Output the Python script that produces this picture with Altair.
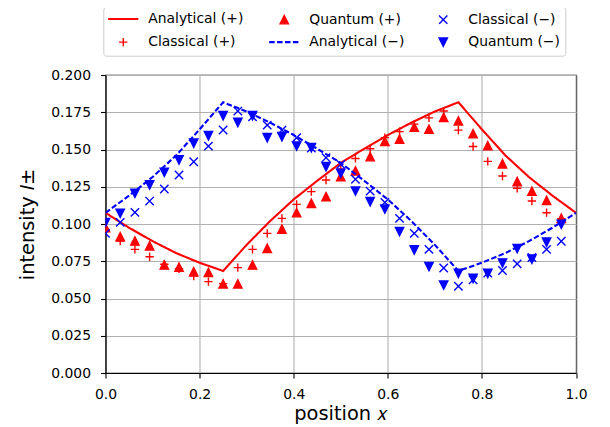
import altair as alt
import pandas as pd

# ---- series (legend is filled column by column, like the original) ----
SERIES = ["Analytical (+)", "Classical (+)", "Quantum (+)",
          "Analytical (−)", "Classical (−)", "Quantum (−)"]
COLORS = ["#ff0000", "#ff0000", "#ff0000", "#0000ff", "#0000ff", "#0000ff"]
FILLS = ["transparent", "transparent", "#ff0000", "transparent", "transparent", "#0000ff"]
_PAD = "M-3.6,-1M3.6,1"  # invisible moves: give every legend symbol the same extent
SHAPES = ["M-3.6,0H3.6" + _PAD,
          "M-1,0H1M0,-1V1" + _PAD,
          "M0,-1L-1,1L1,1Z" + _PAD,
          "M-3.6,0H3.6" + _PAD,
          "M-1,-1L1,1M-1,1L1,-1" + _PAD,
          "M0,1L-1,-1L1,-1Z" + _PAD]
DASHES = [[1, 0], [1, 0], [1, 0], [5.5, 2.4], [1, 0], [1, 0]]
WIDTHS = [2.1, 1.4, 1.4, 2.1, 1.4, 1.4]

# ---- analytical curves ----
ana_x = [0.0, 0.05, 0.10, 0.15, 0.20, 0.25, 0.30, 0.35, 0.40, 0.45, 0.50,
         0.55, 0.60, 0.65, 0.70, 0.75, 0.80, 0.85, 0.90, 0.95, 1.0]
ana_plus = [0.1075, 0.0975, 0.0885, 0.0805, 0.0740, 0.0685, 0.0860, 0.1020,
            0.1165, 0.1290, 0.1410, 0.1505, 0.1597, 0.1680, 0.1755, 0.1817,
            0.1635, 0.1460, 0.1315, 0.1190, 0.1075]
ana_minus = [0.1075, 0.1190, 0.1315, 0.1460, 0.1635, 0.1817, 0.1755, 0.1680,
             0.1597, 0.1505, 0.1410, 0.1290, 0.1165, 0.1020, 0.0860, 0.0685,
             0.0740, 0.0805, 0.0885, 0.0975, 0.1075]

# ---- sampled positions ----
pos_x = [0.0, 0.03125, 0.0625, 0.09375, 0.125, 0.15625, 0.1875, 0.21875,
         0.25, 0.28125, 0.3125, 0.34375, 0.375, 0.40625, 0.4375, 0.46875,
         0.5, 0.53125, 0.5625, 0.59375, 0.625, 0.65625, 0.6875, 0.71875,
         0.75, 0.78125, 0.8125, 0.84375, 0.875, 0.90625, 0.9375, 0.96875]
classical_plus = [0.0960, 0.0886, 0.0830, 0.0780, 0.0730, 0.0700, 0.0650, 0.0613,
                  0.0600, 0.0707, 0.0830, 0.0937, 0.1038, 0.1132, 0.1217, 0.1295,
                  0.1369, 0.1440, 0.1505, 0.1580, 0.1620, 0.1670, 0.1712, 0.1758,
                  0.1630, 0.1520, 0.1420, 0.1322, 0.1240, 0.1154, 0.1076, 0.1035]
quantum_plus = [0.0975, 0.0915, 0.0886, 0.0854, 0.0725, 0.0710, 0.0680, 0.0675,
                0.0598, 0.0598, 0.0725, 0.0837, 0.0966, 0.1076, 0.1139, 0.1183,
                0.1318, 0.1356, 0.1452, 0.1555, 0.1570, 0.1650, 0.1636, 0.1716,
                0.1692, 0.1606, 0.1526, 0.1404, 0.1285, 0.1220, 0.1158, 0.1038]
classical_minus = [0.0937, 0.1011, 0.1078, 0.1154, 0.1235, 0.1329, 0.1418, 0.1523,
                   0.1631, 0.1758, 0.1720, 0.1664, 0.1630, 0.1579, 0.1510, 0.1445,
                   0.1400, 0.1300, 0.1221, 0.1145, 0.1038, 0.0937, 0.0830, 0.0705,
                   0.0582, 0.0625, 0.0670, 0.0688, 0.0732, 0.0775, 0.0830, 0.0884]
quantum_minus = [0.1010, 0.1072, 0.1206, 0.1262, 0.1347, 0.1430, 0.1542, 0.1593,
                 0.1727, 0.1682, 0.1727, 0.1579, 0.1586, 0.1523, 0.1512, 0.1385,
                 0.1340, 0.1221, 0.1150, 0.1100, 0.0949, 0.0826, 0.0714, 0.0590,
                 0.0669, 0.0635, 0.0668, 0.0738, 0.0835, 0.0764, 0.0878, 0.0998]

df_ana_p = pd.DataFrame({"x": ana_x, "y": ana_plus, "series": "Analytical (+)"})
df_ana_m = pd.DataFrame({"x": ana_x, "y": ana_minus, "series": "Analytical (−)"})
df_pts_p = pd.concat([
    pd.DataFrame({"x": pos_x, "y": classical_plus, "series": "Classical (+)"}),
    pd.DataFrame({"x": pos_x, "y": quantum_plus, "series": "Quantum (+)"}),
])
df_pts_m = pd.concat([
    pd.DataFrame({"x": pos_x, "y": classical_minus, "series": "Classical (−)"}),
    pd.DataFrame({"x": pos_x, "y": quantum_minus, "series": "Quantum (−)"}),
])

FONT = "DejaVu Sans"
LEG = alt.Legend(title=None, orient="none", legendX=-2.2, legendY=-68.3, columns=3,
                 symbolSize=70, symbolOffset=8, labelOffset=18,
                 labelFontSize=13.9, labelFont=FONT, labelColor="black",
                 strokeColor="#cccccc", fillColor="white", cornerRadius=3,
                 padding=5, rowPadding=5.5, columnPadding=20)

x_enc = alt.X("x:Q", scale=alt.Scale(domain=[0, 1], nice=False, zero=False),
              axis=alt.Axis(values=[0, 0.2, 0.4, 0.6, 0.8, 1.0], format=".1f",
                            title="position 𝑥", titlePadding=4, labelPadding=9))
y_enc = alt.Y("y:Q", scale=alt.Scale(domain=[0, 0.2], nice=False),
              axis=alt.Axis(values=[0, 0.025, 0.05, 0.075, 0.1, 0.125, 0.15, 0.175, 0.2],
                            format=".3f", title="intensity 𝐼±", titlePadding=13.5,
                            labelPadding=10))
stroke_enc = alt.Stroke("series:N", scale=alt.Scale(domain=SERIES, range=COLORS), legend=LEG)
fill_enc = alt.Fill("series:N", scale=alt.Scale(domain=SERIES, range=FILLS), legend=LEG)
shape_enc = alt.Shape("series:N", scale=alt.Scale(domain=SERIES, range=SHAPES), legend=LEG)
dash_enc = alt.StrokeDash("series:N", scale=alt.Scale(domain=SERIES, range=DASHES), legend=LEG)
sw_enc = alt.StrokeWidth("series:N",
                         scale=alt.Scale(type="ordinal", domain=SERIES, range=WIDTHS),
                         legend=LEG)


def line_layer(df):
    return alt.Chart(df).mark_line(clip=True).encode(
        x=x_enc, y=y_enc, stroke=stroke_enc, strokeDash=dash_enc, strokeWidth=sw_enc)


def point_layer(df):
    return alt.Chart(df).mark_point(clip=True, size=70, opacity=1).encode(
        x=x_enc, y=y_enc, stroke=stroke_enc, fill=fill_enc, shape=shape_enc,
        strokeWidth=sw_enc)


chart = alt.layer(
    line_layer(df_ana_p), point_layer(df_pts_p),
    line_layer(df_ana_m), point_layer(df_pts_m),
).properties(
    width=470.5, height=298,
    autosize=alt.AutoSizeParams(type="none"),
    padding={"left": 97.5, "top": 67, "right": 26, "bottom": 52},
).configure(
    font=FONT,
).configure_view(
    stroke="black", strokeWidth=1.1,
).configure_axis(
    grid=True, gridColor="#b0b0b0", gridWidth=1.1,
    domainColor="black", domainWidth=1.1,
    tickColor="black", tickWidth=1.1, tickSize=5,
    labelFont=FONT, labelFontSize=13.9, labelColor="black",
    titleFont=FONT, titleFontSize=19.4, titleColor="black", titleFontWeight="normal",
    labelFlush=False, labelOverlap=False,
)

chart.save("out.html", embed_options={"renderer": "svg", "actions": False})
